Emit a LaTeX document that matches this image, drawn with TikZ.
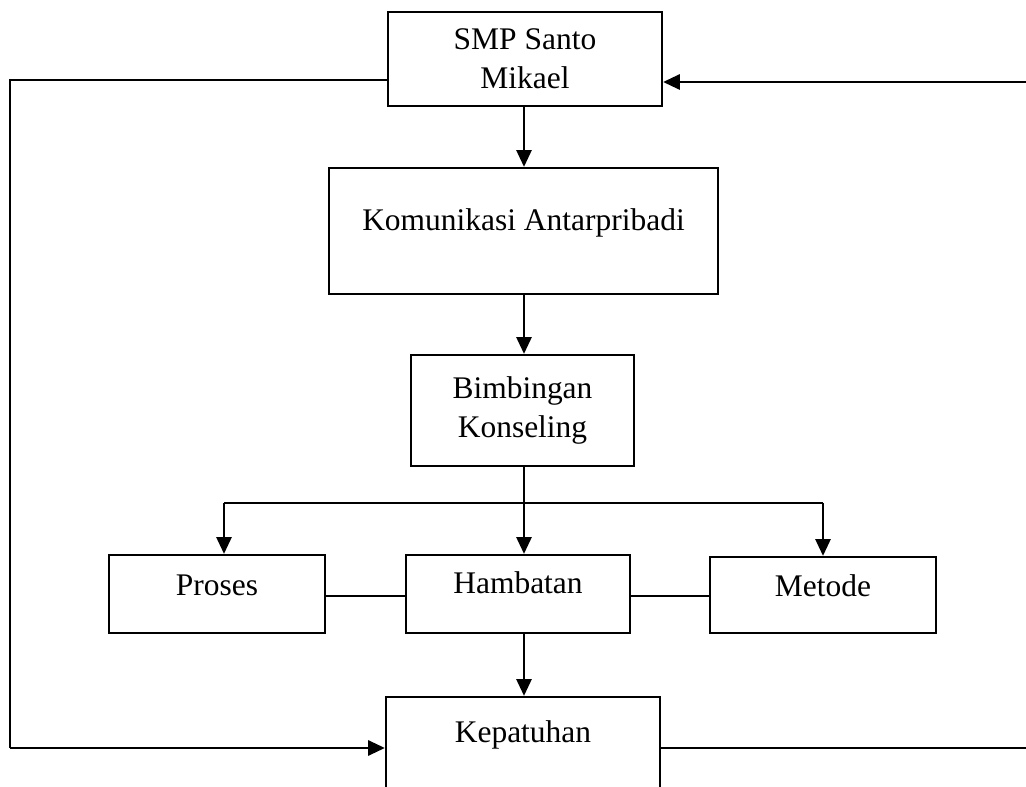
\documentclass[tikz,border=0pt]{standalone}
\usepackage{fontspec}
\setmainfont{Liberation Serif}
\usetikzlibrary{arrows.meta}
\begin{document}
\begin{tikzpicture}[x=0.75pt,y=-0.75pt,
  box/.style={draw,line width=1.8pt,rectangle,inner sep=0pt,align=center,
    font=\fontsize{23.6pt}{29pt}\selectfont},
  conn/.style={line width=1.1pt},
  thin/.style={line width=0.8pt},
  arr/.style={conn,-{Triangle[length=12.5pt,width=11.5pt]}}]
\useasboundingbox (0,0) rectangle (1026,787);
\begin{scope}
\clip (0,0) rectangle (1026,787);
\node[box,minimum width=274*0.75pt,minimum height=94*0.75pt] (smp) at (525,59) {SMP Santo\\Mikael};
\node[box,minimum width=389*0.75pt,minimum height=126*0.75pt,text height=16pt,text depth=16pt] (kom) at (523.5,231) {Komunikasi Antarpribadi};
\node[box,minimum width=223*0.75pt,minimum height=111*0.75pt] (bim) at (522.5,410.5) {Bimbingan\\Konseling};
\node[box,minimum width=216*0.75pt,minimum height=78*0.75pt,text height=16pt,text depth=13pt] (pro) at (217,594) {Proses};
\node[box,minimum width=224*0.75pt,minimum height=78*0.75pt,text height=16pt,text depth=16pt] (ham) at (518,594) {Hambatan};
\node[box,minimum width=226*0.75pt,minimum height=76*0.75pt,text height=16pt,text depth=13pt] (met) at (823,595) {Metode};
\node[box,minimum width=274*0.75pt,minimum height=140*0.75pt,text height=16pt,text depth=52pt] (kep) at (523,767) {Kepatuhan};

\coordinate (lt) at (10,80);
\coordinate (lb) at (10,748);
\coordinate (rt) at (1026,82);
\coordinate (rb) at (1026,748);
\coordinate (br) at (524,503);
\coordinate (bl) at (224,503);
\coordinate (bR) at (823,503);
\coordinate (hc) at (524,596);

\draw[thin] (smp.west |- lt) -- (lt) -- (lb);
\draw[arr,line width=1.4pt] (lb) -- (kep.west |- lb);
\draw[arr,line width=1.4pt] (rt) -- (smp.east |- rt);
\draw[thin] (kep.east |- rb) -- (rb);
\draw[arr] (smp.south -| br) -- (kom.north -| br);
\draw[arr] (kom.south -| br) -- (bim.north -| br);
\draw[conn] (bim.south -| br) -- (br);
\draw[arr] (br) -- (ham.north -| br);
\draw[thin] (bl) -- (bR);
\draw[arr] (bl) -- (pro.north -| bl);
\draw[arr] (bR) -- (met.north -| bR);
\draw[arr] (ham.south -| br) -- (kep.north -| br);
\draw[thin] (pro.east |- hc) -- (ham.west |- hc);
\draw[thin] (ham.east |- hc) -- (met.west |- hc);
\end{scope}
\end{tikzpicture}
\end{document}
